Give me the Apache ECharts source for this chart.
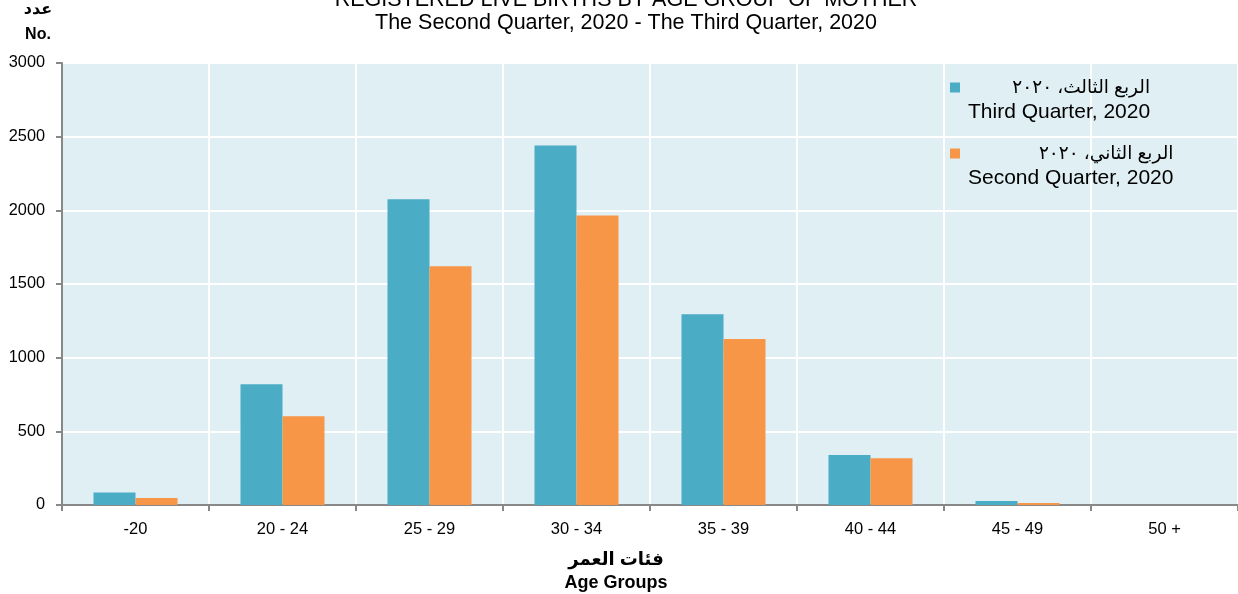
<!DOCTYPE html>
<html>
<head>
<meta charset="utf-8">
<script src="https://cdn.jsdelivr.net/npm/echarts@6/dist/echarts.min.js"></script>
<style>
html,body{margin:0;padding:0;background:#fff;}
#chart{width:1238px;height:594px;}
</style>
</head>
<body>
<div id="chart"></div>
<script>
const categories = ['-20', '20 - 24', '25 - 29', '30 - 34', '35 - 39', '40 - 44', '45 - 49', '50 +'];
const thirdQuarter = [85, 820, 2075, 2440, 1295, 340, 27, 0];
const secondQuarter = [47, 603, 1620, 1965, 1127, 318, 13, 0];
const yTicks = [0, 500, 1000, 1500, 2000, 2500, 3000];
const seriesNamesAr = ['الربع الثالث، ٢٠٢٠', 'الربع الثاني، ٢٠٢٠'];
const seriesNamesEn = ['Third Quarter, 2020', 'Second Quarter, 2020'];
const colors = ['#4bacc6', '#f79646'];

const FONT = '"Liberation Sans", Arial, "DejaVu Sans", sans-serif';
const chart = echarts.init(document.getElementById('chart'));
chart.setOption({
  animation: false,
  textStyle: { fontFamily: FONT },
  title: {
    text: 'REGISTERED LIVE BIRTHS BY AGE GROUP OF MOTHER\nThe Second Quarter, 2020 - The Third Quarter, 2020',
    left: 626, top: -11, textAlign: 'center', padding: 0,
    textStyle: { fontFamily: FONT, fontSize: 21.5, fontWeight: 'normal', color: '#000', lineHeight: 23 }
  },
  legend: {
    orient: 'vertical', left: 940, top: 70, icon: 'none', itemWidth: 0, itemGap: 16,
    data: seriesNamesAr,
    formatter: function (name) {
      const i = seriesNamesAr.indexOf(name);
      return '{sq' + i + '|}{a|' + name + '}\n{sp|}{b|' + seriesNamesEn[i] + '}';
    },
    textStyle: {
      fontFamily: FONT, fontSize: 21, color: '#000', lineHeight: 25,
      rich: {
        sq0: { width: 10, height: 10, backgroundColor: colors[0], align: 'left' },
        sq1: { width: 10, height: 10, backgroundColor: colors[1], align: 'left' },
        sp: { width: 18, align: 'left' },
        a: { fontSize: 18.5, fontFamily: FONT, align: 'right', lineHeight: 25 },
        b: { fontSize: 21, fontFamily: FONT, align: 'right', lineHeight: 25 }
      }
    }
  },
  grid: {
    left: 62, right: 0, top: 63, bottom: 89, show: true, outerBoundsMode: 'none',
    backgroundColor: '#dfeff4', borderWidth: 0
  },
  xAxis: {
    type: 'category', data: categories,
    axisLine: { lineStyle: { color: '#888', width: 2 } },
    axisTick: { show: true, length: 6, lineStyle: { color: '#888', width: 2 } },
    axisLabel: { fontSize: 16.5, color: '#000', margin: 16, fontFamily: FONT },
    splitLine: { show: true, lineStyle: { color: '#fff', width: 2 } },
    name: 'فئات العمر\nAge Groups', nameLocation: 'middle', nameGap: 44,
    nameTextStyle: { fontFamily: FONT, fontSize: 18, fontWeight: 'bold', color: '#000', lineHeight: 23, padding: [0, 68, 0, 0] }
  },
  yAxis: {
    type: 'value', min: 0, max: 3000, interval: 500,
    axisLine: { show: true, lineStyle: { color: '#888', width: 2 } },
    axisTick: { show: true, length: 6, lineStyle: { color: '#888', width: 2 } },
    axisLabel: { fontSize: 16.3, color: '#000', margin: 17, fontFamily: FONT,
      formatter: function (v) { return String(v); } },
    splitLine: { show: true, lineStyle: { color: '#fff', width: 2 } },
    name: 'عدد\nNo.', nameLocation: 'end', nameGap: 16,
    nameTextStyle: { fontFamily: FONT, fontSize: 16, fontWeight: 'bold', color: '#000', lineHeight: 25, align: 'center', padding: [0, 48, 0, 0] }
  },
  series: [
    { name: seriesNamesAr[0], type: 'bar', data: thirdQuarter, barWidth: 42, barGap: '0%', itemStyle: { color: colors[0] } },
    { name: seriesNamesAr[1], type: 'bar', data: secondQuarter, barWidth: 42, barGap: '0%', itemStyle: { color: colors[1] } }
  ]
});
</script>
</body>
</html>
